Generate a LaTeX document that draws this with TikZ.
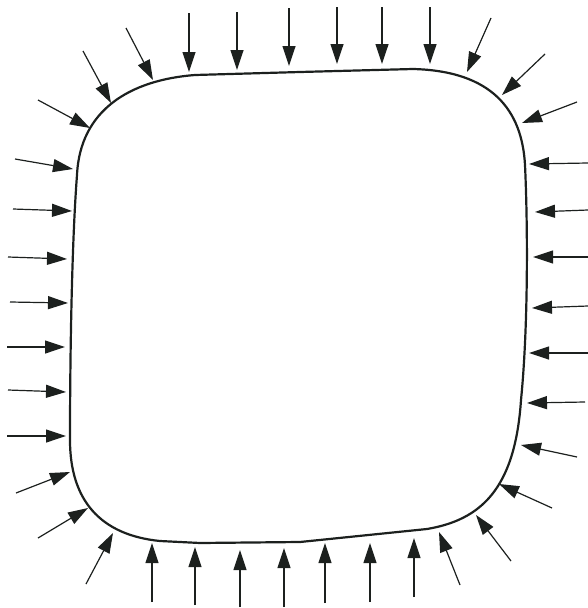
\documentclass[tikz,border=0pt]{standalone}
\usetikzlibrary{arrows.meta}
\definecolor{ink}{RGB}{28,32,30}
\begin{document}
\begin{tikzpicture}[x=1pt,y=-1pt,
  outline/.style={draw=ink,line width=2.2pt,line join=round},
  pusharrow/.style={draw=ink,line width=1.2pt,-{Triangle[length=20pt,width=13pt]}}]
\useasboundingbox (0,0) rectangle (588,608);
% body outline
\draw[outline] (195,75) -- (300,72) -- (413,69)
  .. controls (492,71) and (522,110) .. (525,165)
  .. controls (528,230) and (528,330) .. (521,400)
  .. controls (515,490) and (480,520) .. (427,529)
  -- (300,542) -- (200,543) -- (160,541)
  .. controls (100,535) and (70,500) .. (70,440)
  .. controls (70,350) and (72,240) .. (77,175)
  .. controls (80,110) and (130,80) .. (195,75) -- cycle;
% inward arrows
\foreach \ax/\ay/\bx/\by in {
  189/13/189/72, 237/12/237/70, 289/8/289/66, 337/7/337/64, 382/7/382/64, 430/7/430/64,
  126/28/153/80, 83/51/111/103, 38/100/90/128, 15/159/73/169,
  13/209/72/211, 8/257/67/259, 10/302/68/303, 7/347/65/347, 8/390/66/392, 7/436/66/436,
  16/493/70/472, 38/538/88/508, 86/584/113/533,
  152/602/152/543, 195/605/195/547, 240/607/240/550, 284/607/284/548, 325/603/325/543, 370/602/370/543, 414/597/414/538,
  460/585/439/532, 511/561/476/515, 552/508/499/484, 577/457/521/445,
  588/163/529/164, 588/210/535/212, 588/257/533/257, 588/306/532/308, 588/353/529/353, 585/402/527/403,
  491/18/467/72, 545/54/502/95, 577/102/522/123}
{
  \coordinate (t) at (\ax,\ay);
  \coordinate (h) at (\bx,\by);
  \draw[pusharrow] (t) -- (h);
}
\end{tikzpicture}
\end{document}
